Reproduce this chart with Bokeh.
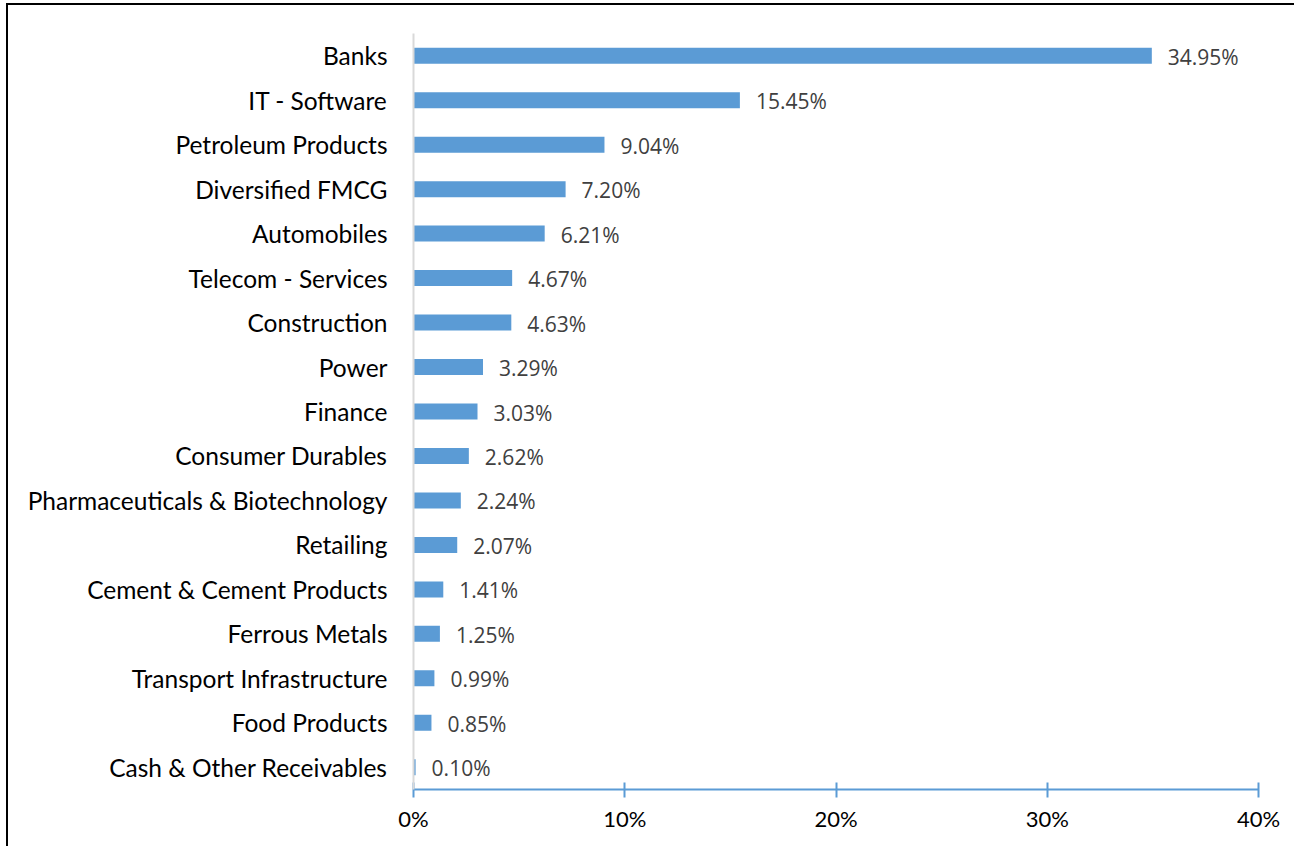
from bokeh.plotting import figure
from bokeh.models import FactorRange, Range1d, FixedTicker, ColumnDataSource
from bokeh.embed import file_html
from bokeh.resources import INLINE
from bokeh.core.properties import value

categories = ["Banks", "IT - Software", "Petroleum Products", "Diversified FMCG",
              "Automobiles", "Telecom - Services", "Construction", "Power", "Finance",
              "Consumer Durables", "Pharmaceuticals & Biotechnology", "Retailing",
              "Cement & Cement Products", "Ferrous Metals", "Transport Infrastructure",
              "Food Products", "Cash & Other Receivables"]
values = [34.95, 15.45, 9.04, 7.20, 6.21, 4.67, 4.63, 3.29, 3.03, 2.62, 2.24, 2.07,
          1.41, 1.25, 0.99, 0.85, 0.10]
tick_values = [0, 10, 20, 30, 40]
tick_labels = ["0%", "10%", "20%", "30%", "40%"]

FONT = "Lato"
BLUE = "#5B9BD5"

src = ColumnDataSource(dict(cat=categories, val=values,
                            lab=[f"{v:.2f}%" for v in values]))

p = figure(width=1288, height=843, output_backend="svg", toolbar_location=None,
           y_range=FactorRange(*reversed(categories)),
           x_range=Range1d(0, 40))
p.styles = {"border-left": "2px solid black", "border-top": "2px solid black",
            "margin-left": "6px", "margin-top": "3px"}
p.min_border_left = 405
p.min_border_right = 38
p.min_border_top = 28
p.min_border_bottom = 59
p.outline_line_color = None
p.grid.grid_line_color = None
p.background_fill_color = "white"
p.border_fill_color = "white"

p.hbar(y="cat", right="val", left=0, height=0.36, source=src,
       fill_color=BLUE, line_color=None)
p.text(x="val", y="cat", text="lab", source=src, x_offset=16, y_offset=1,
       text_baseline="middle", text_align="left",
       text_font=value("Open Sans"), text_font_size="21px", text_color="#404040")

xa = p.xaxis[0]
xa.ticker = FixedTicker(ticks=tick_values)
xa.major_label_overrides = {t: l for t, l in zip(tick_values, tick_labels)}
xa.axis_line_color = BLUE
xa.axis_line_width = 2
xa.major_tick_line_color = BLUE
xa.major_tick_line_width = 2
xa.major_tick_in = 7
xa.major_tick_out = 8
xa.minor_tick_line_color = None
xa.major_label_text_font = FONT
xa.major_label_text_font_size = "22px"
xa.major_label_text_color = "black"
xa.major_label_standoff = 7

ya = p.yaxis[0]
ya.axis_line_color = "#D9D9D9"
ya.axis_line_width = 2
ya.major_tick_line_color = None
ya.minor_tick_line_color = None
ya.major_tick_in = 0
ya.major_tick_out = 0
ya.major_label_standoff = 26
ya.major_label_text_font = FONT
ya.major_label_text_font_size = "24.5px"
ya.major_label_text_color = "black"

open("out.html", "w").write(file_html(p, INLINE))
